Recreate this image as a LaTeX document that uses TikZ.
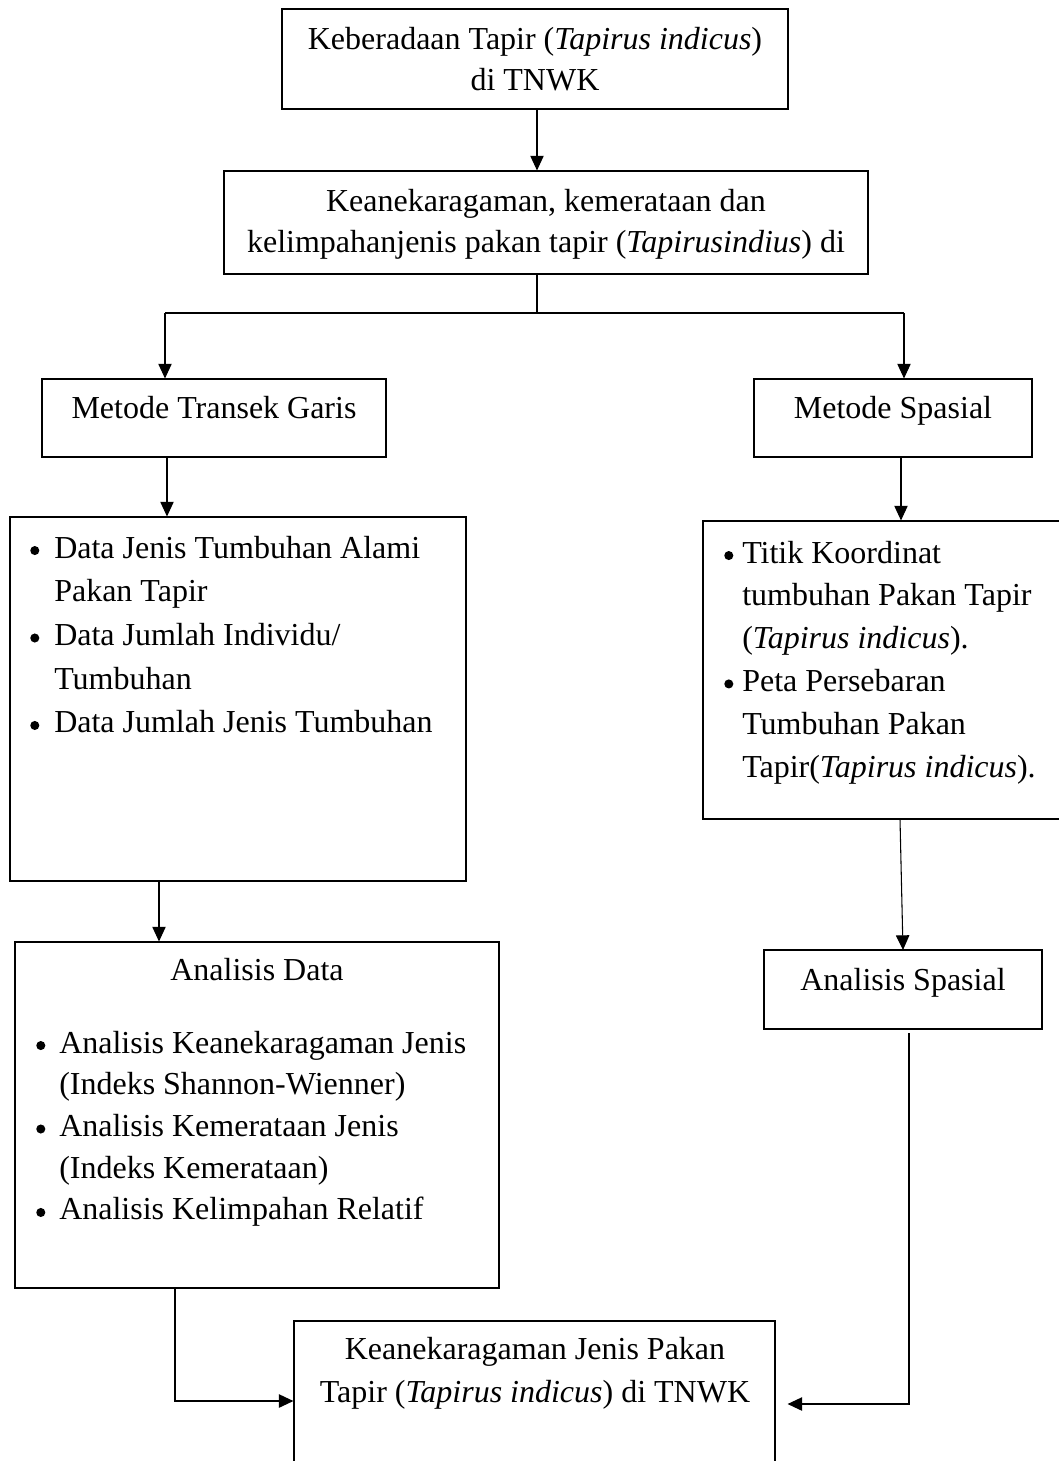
\documentclass[tikz,border=0pt]{standalone}
\usepackage{fontspec}
\setmainfont{Liberation Serif}
\usetikzlibrary{arrows.meta,fit}
\newcommand{\dotb}{\raisebox{2.2pt}{\tikz[x=1cm,y=1cm]{\fill[black] (0,0) circle (3.4pt);}}}
\newcommand{\bulA}{\makebox[18pt][l]{\dotb}}
\newcommand{\indA}{\hspace*{18pt}}
\newcommand{\bulB}{\makebox[13.5pt][l]{\dotb}}
\newcommand{\indB}{\hspace*{13.5pt}}
\newcommand{\bulC}{\makebox[17.25pt][l]{\dotb}}
\newcommand{\indC}{\hspace*{17.25pt}}
\begin{document}
\begin{tikzpicture}[x=0.75pt,y=-0.75pt,
  box/.style={draw=black,line width=0.8pt,inner sep=0pt},
  txt/.style={inner sep=0pt,font=\fontsize{24}{31.5}\selectfont},
  arr/.style={line width=0.8pt,-{Triangle[length=11pt,width=10pt]}},
  arrb/.style={line width=1.3pt,-{Triangle[length=11pt,width=10pt]}},
  ln/.style={line width=0.8pt}]
\useasboundingbox (0,0) rectangle (1059,1461);
% boxes
\node[box,fit={(282,9) (788,109)}] (b1) {};
\node[box,fit={(224,171) (868,274)}] (b2) {};
\node[box,fit={(42,379) (386,457)}] (b3) {};
\node[box,fit={(754,379) (1032,457)}] (b4) {};
\node[box,fit={(10,517) (466,881)}] (b5) {};
\node[box,fit={(703,521) (1068,819)}] (b6) {};
\node[box,fit={(764,950) (1042,1029)}] (b7) {};
\node[box,fit={(15,942) (499,1288)}] (b8) {};
\node[box,fit={(294,1321) (775,1490)}] (b9) {};
% texts
\node[txt,anchor=base,font=\fontsize{24}{30.75}\selectfont] (t1) at (535,49)
  {\begin{tabular}[t]{@{}c@{}}Keberadaan Tapir (\textit{Tapirus indicus})\\ di TNWK\end{tabular}};
\node[txt,anchor=base,font=\fontsize{24}{30.75}\selectfont] (t2) at (546,211)
  {\begin{tabular}[t]{@{}c@{}}Keanekaragaman, kemerataan dan\\ kelimpahanjenis pakan tapir (\textit{Tapirusindius}) di\end{tabular}};
\node[txt,anchor=base] (t3) at (214,418) {Metode Transek Garis};
\node[txt,anchor=base] (t4) at (893,418) {Metode Spasial};
\node[txt,anchor=base west,font=\fontsize{24}{32.8}\selectfont] (t5) at (30,558)
  {\begin{tabular}[t]{@{}l@{}}\bulA Data Jenis Tumbuhan Alami\\ \indA Pakan Tapir\\ \bulA Data Jumlah Individu/\\ \indA Tumbuhan\\ \bulA Data Jumlah Jenis Tumbuhan\end{tabular}};
\node[txt,anchor=base west,font=\fontsize{24}{32.1}\selectfont] (t6) at (724,563)
  {\begin{tabular}[t]{@{}l@{}}\bulB Titik Koordinat\\ \indB tumbuhan Pakan Tapir\\ \indB (\textit{Tapirus indicus}).\\ \bulB Peta Persebaran\\ \indB Tumbuhan Pakan\\ \indB Tapir(\textit{Tapirus indicus}).\end{tabular}};
\node[txt,anchor=base] (t7) at (903,990) {Analisis Spasial};
\node[txt,anchor=base] (t8) at (257,980) {Analisis Data};
\node[txt,anchor=base west,font=\fontsize{24}{31.3}\selectfont] (t9) at (36,1053)
  {\begin{tabular}[t]{@{}l@{}}\bulC Analisis Keanekaragaman Jenis\\ \indC (Indeks Shannon-Wienner)\\ \bulC Analisis Kemerataan Jenis\\ \indC (Indeks Kemerataan)\\ \bulC Analisis Kelimpahan Relatif\end{tabular}};
\node[txt,anchor=base,font=\fontsize{24}{32.25}\selectfont] (t10) at (535,1359)
  {\begin{tabular}[t]{@{}c@{}}Keanekaragaman Jenis Pakan\\ Tapir (\textit{Tapirus indicus}) di TNWK\end{tabular}};
% connector points
\coordinate (c12) at (537,109);
\coordinate (split) at (537,313);
\coordinate (sl) at (165,313);
\coordinate (sr) at (904,313);
\coordinate (c35) at (167,457);
\coordinate (c46) at (901,457);
\coordinate (c67) at (900,819);
\coordinate (c67e) at (903,950);
\coordinate (c58) at (159,881);
\coordinate (c79) at (909,1033);
\coordinate (c79b) at (909,1404);
\coordinate (c89) at (175,1288);
\coordinate (c89b) at (175,1401);
% connectors
\draw[arr] (c12) -- (c12 |- b2.north);
\draw[ln] (split |- b2.south) -- (split);
\draw[ln] (sl) -- (sr);
\draw[arr] (sl) -- (sl |- b3.north);
\draw[arr] (sr) -- (sr |- b4.north);
\draw[arr] (c35) -- (c35 |- b5.north);
\draw[arr] (c46) -- (c46 |- b6.north);
\draw[arr] (c67) -- (c67e);
\draw[arr] (c58) -- (c58 |- b8.north);
\draw[arrb] (c79) -- (c79b) -- ([xshift=9pt]c79b -| b9.east);
\draw[arrb] (c89) -- (c89b) -- (c89b -| b9.west);
\end{tikzpicture}
\end{document}
